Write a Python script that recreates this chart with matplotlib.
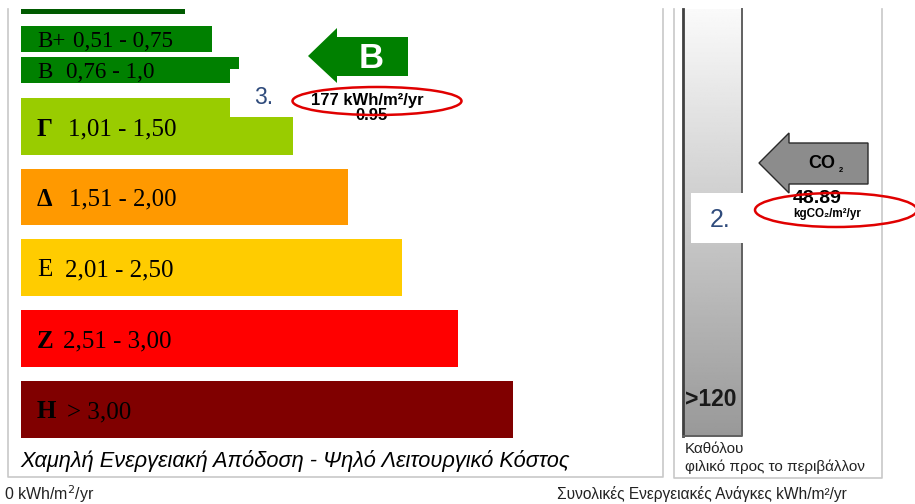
import numpy as np
import matplotlib
matplotlib.use("Agg")
import matplotlib.pyplot as plt
from matplotlib.patches import Polygon, Rectangle, Ellipse

# ---- energy classes ----
class_letters = ["Α", "Β+", "Β", "Γ", "Δ", "Ε", "Ζ", "Η"]
class_ranges = ["", "0,51 - 0,75", "0,76 - 1,0", "1,01 - 1,50", "1,51 - 2,00",
                "2,01 - 2,50", "2,51 - 3,00", "> 3,00"]
class_bold = [True, False, False, True, True, False, True, True]
bar_lengths = [164, 191, 218, 272, 327, 381, 437, 492]
class_colors = ["#005a00", "#008000", "#008000", "#99cc00", "#ff9900",
                "#ffcc00", "#ff0000", "#800000"]

# ---- building result ----
energy_class = "B"
energy_use = 177          # kWh/m²/yr
energy_ratio = 0.95
co2_emissions = 48.89     # kgCO2/m²/yr
co2_scale_label = ">120"

# ---- layout (pixel space) ----
bar_left = 21
bar_tops = [9, 26, 57, 98, 169, 239, 310, 381]
bar_heights = [5, 26, 26, 57, 56, 57, 57, 57]
range_x = [0, 73, 66, 68, 69, 65, 63, 67]
label_sizes = [17, 16.6, 16.6, 18, 17.8, 18, 18, 18]

fig = plt.figure(figsize=(9.15, 5.04), dpi=100)
ax = fig.add_axes([0, 0, 1, 1])
ax.set_xlim(0, 915)
ax.set_ylim(504, 0)
ax.axis("off")

serif = "Liberation Serif"
sans = ["Liberation Sans", "DejaVu Sans"]

# panel frames (left / right / bottom edges)
frame_col = "#c8c8c8"
ax.plot([8, 8, 663, 663], [9, 477, 477, 9], color=frame_col, lw=1.2)
ax.plot([674, 674, 882, 882], [9, 478, 478, 9], color=frame_col, lw=1.2)

# class bars
centers = [t + h / 2 for t, h in zip(bar_tops, bar_heights)]
ax.barh(centers, bar_lengths, height=bar_heights, left=bar_left,
        color=class_colors, edgecolor="none")

for i, (let, rng) in enumerate(zip(class_letters, class_ranges)):
    if not rng:
        continue
    ax.text(37, centers[i], let, family=serif, fontsize=label_sizes[i],
            fontweight="bold" if class_bold[i] else "normal",
            va="center_baseline", ha="left", color="black")
    ax.text(range_x[i], centers[i], rng, family=serif, fontsize=label_sizes[i],
            va="center_baseline", ha="left", color="black")

# white label box "3."
ax.add_patch(Rectangle((230, 69), 63, 48, facecolor="white", edgecolor="none", zorder=3))
ax.text(264, 97, "3.", family=sans, fontsize=16.5, color="#2f4b7c",
        ha="center", va="center", zorder=4)

# class arrow
arrow_b = Polygon([(308, 56), (337, 28), (337, 37), (408, 37), (408, 76),
                   (337, 76), (337, 83)], closed=True,
                  facecolor="#008000", edgecolor="none", zorder=4)
ax.add_patch(arrow_b)
ax.text(371, 58, energy_class, family=sans, fontsize=25, fontweight="bold",
        color="white", ha="center", va="center", zorder=5)
ax.text(367, 100, f"{energy_use} kWh/m²/yr", family=sans, fontsize=12,
        fontweight="bold", color="black", ha="center", va="center", zorder=5)
ax.text(371, 116, f"{energy_ratio:.2f}", family=sans, fontsize=12,
        fontweight="bold", color="black", ha="center", va="center", zorder=5)
ax.add_patch(Ellipse((377, 101), 169, 28, facecolor="none",
                     edgecolor="#e00000", lw=1.8, zorder=6))

# bottom caption of left panel
ax.text(20, 461, "Χαμηλή Ενεργειακή Απόδοση - Ψηλό Λειτουργικό Κόστος",
        family=sans, fontsize=15.7, style="italic", color="black",
        ha="left", va="center")

# CO2 scale bar with vertical gradient
grad = np.linspace(0.98, 0.60, 256).reshape(-1, 1)
ax.imshow(grad, cmap="gray", vmin=0, vmax=1, extent=(683, 742, 436, 9),
          aspect="auto", zorder=2)
ax.plot([683, 683], [9, 436], color="#404040", lw=2.0, zorder=3)
ax.plot([683, 742, 742], [436, 436, 9], color="#606060", lw=1.4, zorder=3)
ax.text(711, 400, co2_scale_label, family=sans, fontsize=16.5, fontweight="bold",
        color="#1a1a1a", ha="center", va="center", zorder=4)

# white label box "2."
ax.add_patch(Rectangle((691, 193), 52, 50, facecolor="white", edgecolor="none", zorder=5))
ax.text(720, 220, "2.", family=sans, fontsize=18, color="#2f4b7c",
        ha="center", va="center", zorder=6)

# CO2 arrow
arrow_c = Polygon([(759, 163), (789, 133), (789, 143), (868, 143), (868, 184),
                   (789, 184), (789, 193)], closed=True,
                  facecolor="#8c8c8c", edgecolor="#2a2a2a", lw=1.0, zorder=4)
ax.add_patch(arrow_c)
ax.text(822, 164, "CO", family=sans, fontsize=13, fontweight="bold",
        color="black", ha="center", va="center", zorder=5)
ax.text(841, 171, "2", family=sans, fontsize=5.5, fontweight="bold",
        color="black", ha="center", va="center", zorder=5)
ax.text(793, 207, f"{co2_emissions:.2f}", family=sans, fontsize=14,
        fontweight="bold", color="black", ha="left", va="bottom", zorder=5)
ax.text(793, 208, "kgCO₂/m²/yr", family=sans, fontsize=8.4,
        fontweight="bold", color="black", ha="left", va="top", zorder=5)
ax.add_patch(Ellipse((836, 210), 162, 34, facecolor="none",
                     edgecolor="#e00000", lw=1.8, zorder=6))

# right panel caption
ax.text(685, 449, "Καθόλου", family=sans, fontsize=11, color="#222222",
        ha="left", va="center")
ax.text(685, 467, "φιλικό προς το περιβάλλον", family=sans, fontsize=11,
        color="#222222", ha="left", va="center")

# axis end labels
ax.text(4, 494, "0 kWh/m$^{2}$/yr", family=sans, fontsize=11.5, color="#222222",
        ha="left", va="center")
ax.text(557, 494, "Συνολικές Ενεργειακές Ανάγκες kWh/m²/yr", family=sans,
        fontsize=11.2, color="#222222", ha="left", va="center")

fig.savefig("out.png", dpi=100)
